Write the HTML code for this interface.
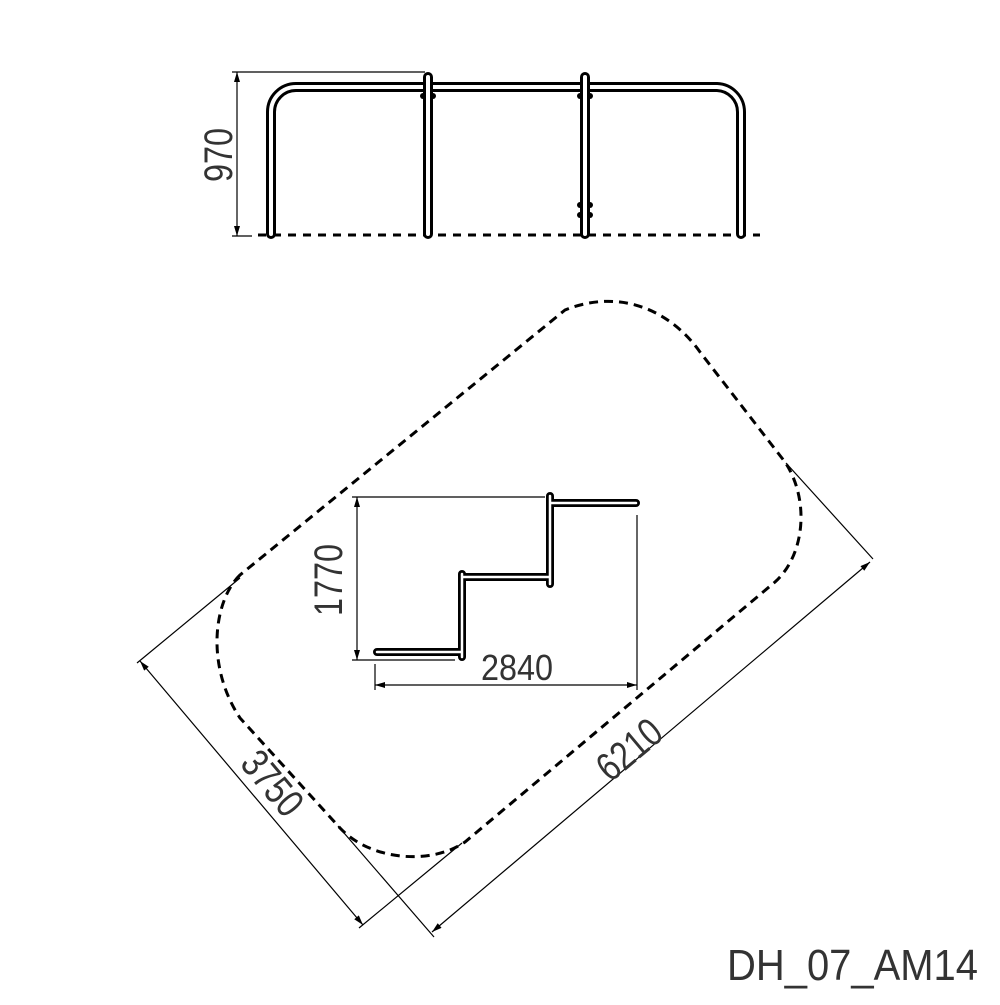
<!DOCTYPE html>
<html><head><meta charset="utf-8"><style>html,body{margin:0;padding:0;background:#fff}</style></head>
<body>
<svg width="1000" height="1000" viewBox="0 0 1000 1000" xmlns="http://www.w3.org/2000/svg" font-family="Liberation Sans, sans-serif" fill="#333">
<defs>
<marker id="a" viewBox="0 0 10 6" refX="10" refY="3" markerWidth="12" markerHeight="6" markerUnits="userSpaceOnUse" orient="auto-start-reverse"><path d="M0,0 L10,3 L0,6 Z" fill="#000"/></marker>
</defs>
<!-- elevation view -->
<g fill="none" stroke="#000" stroke-width="1.2">
<line x1="237" y1="72" x2="237" y2="236" marker-start="url(#a)" marker-end="url(#a)"/>
<line x1="232" y1="72" x2="425" y2="72"/>
<line x1="232" y1="236" x2="252" y2="236"/>
</g>
<line x1="258" y1="235" x2="760" y2="235" stroke="#000" stroke-width="3" stroke-dasharray="8,7"/>
<g fill="none" stroke-linecap="round">
<path d="M271,234 L271,112 A25,25 0 0 1 296,87 L717,87 A25,25 0 0 1 741,112 L741,234" stroke="#000" stroke-width="10"/>
<path d="M271,234 L271,112 A25,25 0 0 1 296,87 L717,87 A25,25 0 0 1 741,112 L741,234" stroke="#fff" stroke-width="4"/>
<line x1="428" y1="77" x2="428" y2="234" stroke="#000" stroke-width="10"/>
<line x1="428" y1="77" x2="428" y2="234" stroke="#fff" stroke-width="4"/>
<line x1="585" y1="77" x2="585" y2="234" stroke="#000" stroke-width="10"/>
<line x1="585" y1="77" x2="585" y2="234" stroke="#fff" stroke-width="4"/>
</g>
<g fill="#000"><circle cx="580" cy="205" r="3"/><circle cx="590" cy="205" r="3"/><circle cx="580" cy="215" r="3"/><circle cx="590" cy="215" r="3"/><circle cx="423" cy="96" r="3"/><circle cx="433" cy="96" r="3"/><circle cx="580" cy="96" r="3"/><circle cx="590" cy="96" r="3"/></g>
<text transform="translate(232,155) rotate(-90)" font-size="40" text-anchor="middle" textLength="54" lengthAdjust="spacingAndGlyphs">970</text>

<!-- dashed area -->
<path d="M240,575 C214,600 205,665 240,718 L340,828 C370,860 430,866 465,842 L775,582 C805,555 810,500 785,462 L700,352 C670,310 620,288 565,310 Z" fill="none" stroke="#000" stroke-width="3" stroke-dasharray="9,6"/>

<!-- 3750 / 6210 dims -->
<g fill="none" stroke="#000" stroke-width="1.2">
<line x1="240" y1="578" x2="137" y2="663"/>
<line x1="462" y1="843" x2="359" y2="928"/>
<line x1="140" y1="661" x2="363" y2="925" marker-start="url(#a)" marker-end="url(#a)"/>
<line x1="338" y1="826" x2="434" y2="937"/>
<line x1="786" y1="463" x2="873" y2="559"/>
<line x1="432" y1="932" x2="870" y2="562" marker-start="url(#a)" marker-end="url(#a)"/>
</g>
<text transform="translate(262,792) rotate(50)" font-size="40" text-anchor="middle" textLength="72" lengthAdjust="spacingAndGlyphs">3750</text>
<text transform="translate(638,760) rotate(-40)" font-size="40" text-anchor="middle" textLength="72" lengthAdjust="spacingAndGlyphs">6210</text>

<!-- plan staircase -->
<g fill="none" stroke="#000" stroke-width="1.2">
<line x1="357" y1="497" x2="357" y2="660" marker-start="url(#a)" marker-end="url(#a)"/>
<line x1="352" y1="497" x2="545" y2="497"/>
<line x1="352" y1="660" x2="455" y2="660"/>
<line x1="375" y1="685" x2="637" y2="685" marker-start="url(#a)" marker-end="url(#a)"/>
<line x1="375" y1="664" x2="375" y2="690"/>
<line x1="637" y1="515" x2="637" y2="690"/>
</g>
<g fill="none" stroke-linecap="round" stroke-linejoin="round">
<path d="M377,652 L462,652 M462,574 L462,657 M462,577 L550,577 M550,496 L550,584 M550,503 L636,503" stroke="#000" stroke-width="8"/>
<path d="M377,652 L462,652 M462,574 L462,657 M462,577 L550,577 M550,496 L550,584 M550,503 L636,503" stroke="#fff" stroke-width="2.5"/>
</g>
<text transform="translate(342,580) rotate(-90)" font-size="40" text-anchor="middle" textLength="72" lengthAdjust="spacingAndGlyphs">1770</text>
<text x="517" y="680" font-size="36" text-anchor="middle" textLength="72" lengthAdjust="spacingAndGlyphs">2840</text>

<text x="727" y="980" font-size="44" textLength="251" lengthAdjust="spacingAndGlyphs">DH_07_AM14</text>
</svg>
</body></html>
